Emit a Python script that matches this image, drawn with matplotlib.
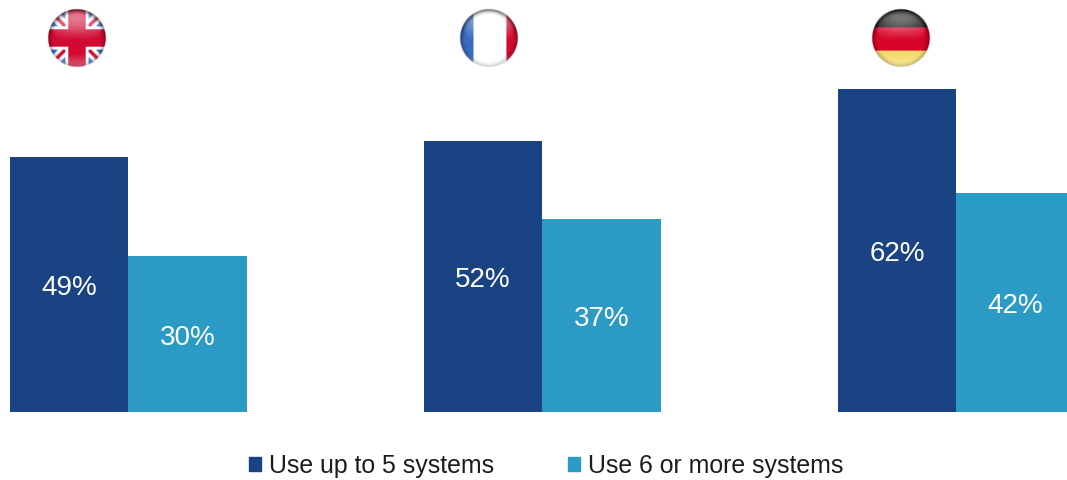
import numpy as np
import matplotlib
matplotlib.use("Agg")
import matplotlib.pyplot as plt
from matplotlib.patches import Patch

plt.rcParams['font.family'] = ['Liberation Sans', 'DejaVu Sans']

countries = ["UK", "France", "Germany"]
series_names = ["Use up to 5 systems", "Use 6 or more systems"]
up_to_5 = [49, 52, 62]
six_plus = [30, 37, 42]
DARK = "#1A4384"
LIGHT = "#2B9AC4"
W, H = 1067, 480

fig = plt.figure(figsize=(W / 100, H / 100), dpi=100)
ax = fig.add_axes([0, 0, 1, 1])
ax.set_xlim(-128.3 / 414, (W - 128.3) / 414)
ax.set_ylim(-(H - 412) / 5.205, 412 / 5.205)
ax.axis("off")

bw = 118.5 / 414
x = np.arange(len(countries))
b1 = ax.bar(x - bw / 2, up_to_5, bw, color=DARK, linewidth=0)
b2 = ax.bar(x + bw / 2, six_plus, bw, color=LIGHT, linewidth=0)
for bars, vals in ((b1, up_to_5), (b2, six_plus)):
    for r, v in zip(bars, vals):
        ax.annotate(f"{v}%", (r.get_x() + r.get_width() / 2, v / 2), xytext=(0, -2.6),
                    textcoords="offset points", color="white",
                    fontsize=20, ha="center", va="center")

ax.legend([Patch(color=DARK), Patch(color=LIGHT)], series_names, ncol=2, frameon=False,
          loc="center", bbox_to_anchor=(546 / W, 1 - 466 / H), fontsize=17.9,
          handlelength=0.48, handleheight=0.48, handletextpad=0.33,
          columnspacing=2.97, borderpad=0, labelcolor="#1c1c1c")


def flag(name, n=64):
    v, u = np.mgrid[-1.06:1.06:n * 1j, -1.06:1.06:n * 1j]
    img = np.ones((n, n, 3))
    blue = np.array([0.22, 0.42, 0.76])
    red = np.array([0.82, 0.04, 0.20])
    if name == "UK":
        img[:] = blue
        d1, d2 = np.abs(u - v), np.abs(u + v)
        img[(d1 < 0.24) | (d2 < 0.24)] = 1
        img[((d1 < 0.08) & (u * v > 0)) | ((d2 < 0.08) & (u * v < 0))] = red
        img[(np.abs(u) < 0.42) | (np.abs(v) < 0.42)] = 1
        img[(np.abs(u) < 0.30) | (np.abs(v) < 0.30)] = red
    elif name == "France":
        img[u < -0.53] = blue
        img[u > 0.60] = red
    else:
        img[v < -0.37] = (0.03, 0.03, 0.03)
        img[(v >= -0.37) & (v < 0.45)] = (0.84, 0.02, 0.16)
        img[v >= 0.45] = (0.96, 0.86, 0.42)
    r = np.hypot(u, v)
    # glossy dome: highlight fading downward, lower glow, rim darkest at the top
    dome = np.clip(1 - np.hypot(u / 0.86, (v + 0.35) / 0.62), 0, 1) ** 0.3
    hi = dome * np.clip(0.62 - 0.75 * (v + 0.75), 0.0, 0.62)
    low = np.clip((v - 0.55) / 0.45, 0, 1) * 0.35
    for a in (hi, low):
        img = img + (1 - img) * a[..., None]
    rim = np.clip((r - 0.82) / 0.18, 0, 1) ** 1.5 * (0.42 - 0.22 * v)
    img = img * (1 - np.clip(rim, 0, 0.7)[..., None])
    alpha = np.clip((1.02 - r) * n / 2.5, 0, 1)
    return np.dstack([img, alpha])


for name, cx in zip(countries, (77, 489, 901)):
    fa = fig.add_axes([(cx - 31) / W, 1 - 69 / H, 62 / W, 62 / H])
    fa.imshow(flag(name), interpolation="bilinear", aspect="auto")
    fa.axis("off")

fig.savefig("out.png", dpi=100)
